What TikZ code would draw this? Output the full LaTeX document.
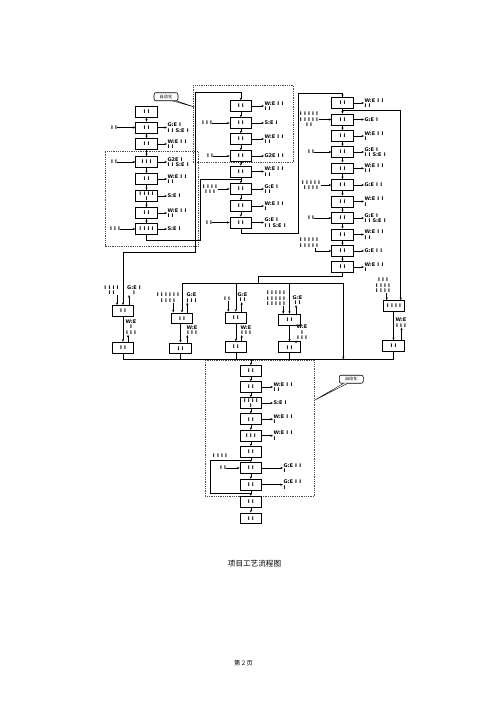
\documentclass[tikz,border=0pt]{standalone}
\usepackage{fontspec}
\newfontfamily\cjk{Noto Sans CJK SC}
\newfontfamily\garbf{DejaVu Sans}
\usetikzlibrary{arrows.meta}
\newcommand\garb{\fontsize{5}{5.5}\selectfont\garbf\bfseries\spaceskip=2.2pt\relax}
\tikzset{
 bx/.style={draw, line width=0.8pt, minimum width=21.5pt, minimum height=10.8pt, inner sep=0pt, font=\garb, align=center, fill=white},
 lb/.style={font=\garb, align=left, inner sep=0.3pt, anchor=west},
 ib/.style={font=\garb, align=center, inner sep=0.3pt},
 ar/.style={-{Stealth[length=2.6pt,width=2.2pt]}, line width=0.6pt},
 ln/.style={line width=0.6pt},
 dsh/.style={densely dotted, line width=0.8pt, black!70},
 callout/.style={draw, rounded corners=2pt, line width=0.6pt, font=\cjk\fontsize{4.2}{4.4}\selectfont, minimum width=24pt, minimum height=8pt, inner sep=0.5pt},
}
\begin{document}
\begin{tikzpicture}[x=1pt,y=-1pt]
\useasboundingbox (0,0) rectangle (500,707);
\fill[white] (0,0) rectangle (500,707);

% ---------------- dashed frames
\draw[dsh] (193.3,85) rectangle (293.3,162.7);
\draw[dsh] (105,151.7) rectangle (198.5,246);
\draw[dsh] (205,360) rectangle (314.3,496.7);

% ---------------- column A
\node[bx] (A1) at (146.5,112) {I I};
\node[bx] (A2) at (146.5,127.5) {I I};
\node[bx] (A3) at (146.5,144) {I I};
\node[bx] (A4) at (146.5,162) {I I I};
\node[bx] (A5) at (146.5,179) {I I};
\node[bx] (A6) at (146.5,196) {I I I I\\[-0.8pt]I};
\node[bx] (A7) at (146.5,213) {I I};
\node[bx] (A8) at (146.5,229) {I I I I};
\foreach \a/\b in {A1/A2,A2/A3,A3/A4,A4/A5,A5/A6,A6/A7,A7/A8} \draw[ar] (\a) -- (\b);
\node[ib] (A2i) at (114,127.5) {I I};
\node[ib] (A4i) at (114,162) {I I};
\node[ib] (A8i) at (115,229) {I I I};
\foreach \n in {A2,A4,A8} \draw[ar] (\n i) -- (\n);
\node[lb] (A2o) at (167,127.5) {G:E I\\I I S:E I};
\node[lb] (A3o) at (167,144) {W:E I I\\I I};
\node[lb] (A4o) at (167,162) {G2E I\\I I S:E I};
\node[lb] (A5o) at (167,179) {W:E I I\\I I};
\node[lb] (A6o) at (167,196) {S:E I};
\node[lb] (A7o) at (167,213) {W:E I I\\I I};
\node[lb] (A8o) at (167,229) {S:E I};
\foreach \n in {A2,A3,A4,A5,A6,A7,A8} \draw[ar] (\n.east) -- (\n o.west);

% ---------------- column B
\node[bx] (B1) at (240.8,106) {I I};
\node[bx] (B2) at (240.8,123) {I I};
\node[bx] (B3) at (240.8,139) {I I};
\node[bx] (B4) at (240.8,156) {I I};
\node[bx] (B5) at (240.8,171.5) {I I};
\node[bx] (B6) at (240.8,189) {I I};
\node[bx] (B7) at (240.8,206) {I I};
\node[bx] (B8) at (240.8,222.5) {I I};
\foreach \a/\b in {B1/B2,B2/B3,B3/B4,B4/B5,B5/B6,B6/B7,B7/B8} \draw[ar] (\a) -- (\b);
\node[ib] (B2i) at (207,123) {I I I};
\node[ib] (B4i) at (210,156) {I I};
\node[ib] (B6i) at (210,189) {I I I I\\I I I};
\node[ib] (B8i) at (209,222.5) {I I};
\foreach \n in {B2,B4,B6,B8} \draw[ar] (\n i) -- (\n);
\node[lb] (B1o) at (264,106) {W:E I I\\I I};
\node[lb] (B2o) at (264,123) {S:E I};
\node[lb] (B3o) at (264,139) {W:E I I\\I I};
\node[lb] (B4o) at (264,156) {G2E I I};
\node[lb] (B5o) at (264,171.5) {W:E I I\\I I};
\node[lb] (B6o) at (264,189) {G:E I\\I I};
\node[lb] (B7o) at (264,206) {W:E I I\\I};
\node[lb] (B8o) at (264,222.5) {G:E I\\I I S:E I};
\foreach \n in {B1,B2,B3,B4,B5,B6,B7,B8} \draw[ar] (\n.east) -- (\n o.west);

% ---------------- column C
\node[bx] (C1) at (342.5,103) {I I};
\node[bx] (C2) at (342.5,119.5) {I I};
\node[bx] (C3) at (342.5,136) {I I};
\node[bx] (C4) at (342.5,152) {I I};
\node[bx] (C5) at (342.5,168.3) {I I};
\node[bx] (C6) at (342.5,185) {I I};
\node[bx] (C7) at (342.5,201.5) {I I};
\node[bx] (C8) at (342.5,218) {I I};
\node[bx] (C9) at (342.5,234.5) {I I};
\node[bx] (C10) at (342.5,251) {I I};
\node[bx] (C11) at (342.5,267) {I I};
\foreach \a/\b in {C1/C2,C2/C3,C3/C4,C4/C5,C5/C6,C6/C7,C7/C8,C8/C9,C9/C10,C10/C11} \draw[ar] (\a) -- (\b);
\node[ib] (C2i) at (309,119.5) {I I I I I\\I I I I I\\I I};
\node[ib] (C4i) at (311,152) {I I};
\node[ib] (C6i) at (311,185) {I I I I I\\I I I I};
\node[ib] (C8i) at (311,218) {I I};
\foreach \n in {C2,C4,C6,C8} \draw[ar] (\n i) -- (\n);
\node[ib] (C10i) at (309,242.5) {I I I I I\\I I I I I};
\draw[ar] ([xshift=-3pt]C10i.south east) |- (C10.west);
\node[lb] (C1o) at (364,103) {W:E I I\\I I};
\node[lb] (C2o) at (364,119.5) {G:E I};
\node[lb] (C3o) at (364,136) {W:E I I\\I};
\node[lb] (C4o) at (364,152) {G:E I\\I I S:E I};
\node[lb] (C5o) at (364,168.3) {W:E I I\\I I};
\node[lb] (C6o) at (364,185) {G:E I I};
\node[lb] (C7o) at (364,201.5) {W:E I I\\I};
\node[lb] (C8o) at (364,218) {G:E I\\I I S:E I};
\node[lb] (C9o) at (364,234.5) {W:E I I\\I I};
\node[lb] (C10o) at (364,251) {G:E I I};
\node[lb] (C11o) at (364,267) {W:E I I\\I};
\foreach \n in {C1,C2,C3,C4,C5,C6,C7,C8,C9,C10,C11} \draw[ar] (\n.east) -- (\n o.west);

% ---------------- middle row
\node[bx] (D1t) at (123,310.8) {I I};
\node[bx] (D1b) at (123,347.5) {I I};
\node[bx] (D2t) at (182,318.3) {I I};
\node[bx] (D2b) at (180.5,348.3) {I I};
\node[bx] (D3t) at (235.8,317.5) {I I};
\node[bx] (D3b) at (235.8,347) {I I};
\node[bx] (D4t) at (289.5,319.6) {I I};
\node[bx] (D4b) at (289.5,347.2) {I I};
\node[bx] (D5t) at (394,306) {I I I I};
\node[bx] (D5b) at (393.5,346) {I I};

\node[ib] (D1i) at (111.5,290) {I I I I\\I I};
\node[ib] (D1g) at (134,290) {G:E I\\I};
\node[ib] (D1w) at (131,327) {W:E\\I\\I I I};
\draw[ar] ([xshift=-2pt]D1i.south east) -- ([xshift=-2pt]D1i.south east |- D1t.north);
\draw[ar] ([xshift=6pt]D1t.north) -- ([xshift=6pt]D1t.north |- D1g.south);
\draw[ar] (D1t.south) -- (D1b.north);
\draw[ar] ([xshift=5pt]D1b.north) -- ([xshift=5pt]D1b.north |- D1w.south);

\node[ib] (D2i) at (168,297.5) {I I I I I I\\I I I I};
\node[ib] (D2g) at (191.5,297.5) {G:E\\I I I};
\node[ib] (D2w) at (192,330) {W:E\\I I I};
\draw[ar] ([xshift=5.3pt]D2i.south) -- ([xshift=5.3pt]D2i.south |- D2t.north);
\draw[ar] ([xshift=5.3pt]D2t.north) -- ([xshift=5.3pt]D2t.north |- D2g.south);
\draw[ar] (D2b.north |- D2t.south) -- (D2b.north);
\draw[ar] ([xshift=6.8pt]D2b.north) -- ([xshift=6.8pt]D2b.north |- D2w.south);

\node[ib] (D3i) at (227,299) {I I};
\node[ib] (D3g) at (242.5,297) {G:E\\I I};
\node[ib] (D3w) at (246,330) {W:E\\I I I};
\draw[ar] ([xshift=1.3pt]D3i.south) -- ([xshift=1.3pt]D3i.south |- D3t.north);
\draw[ar] ([xshift=5.9pt]D3t.north) -- ([xshift=5.9pt]D3t.north |- D3g.south);
\draw[ar] (D3t.south) -- (D3b.north);
\draw[ar] ([xshift=5.9pt]D3b.north) -- ([xshift=5.9pt]D3b.north |- D3w.south);

\node[ib] (D4i) at (276,298.5) {I I I I I\\I I I I I\\I I I I I};
\node[ib] (D4g) at (297.5,300) {G:E\\I I};
\node[ib] (D4w) at (302,332.5) {W:E\\I\\I I I};
\draw[ar] ([xshift=7.3pt]D4i.south) -- ([xshift=7.3pt]D4i.south |- D4t.north);
\draw[ar] ([xshift=6.5pt]D4t.north) -- ([xshift=6.5pt]D4t.north |- D4g.south);
\draw[ar] (D4t.south) -- (D4b.north);
\draw[ar] ([xshift=6.5pt]D4b.north) -- ([xshift=6.5pt]D4b.north |- D4w.south);

\node[ib] (D5i) at (383,285.5) {I I I\\I I I I\\I I I I};
\node[ib] (D5w) at (401,322.5) {W:E\\I I I};
\draw[ar] ([xshift=3.7pt]D5i.south) -- ([xshift=3.7pt]D5i.south |- D5t.north);
\draw[ar] (D5b.north |- D5t.south) -- (D5b.north);
\draw[ar] ([xshift=8pt]D5b.north) -- ([xshift=8pt]D5b.north |- D5w.south);

% ---------------- column E
\node[bx] (E1) at (250.8,371) {I I};
\node[bx] (E2) at (250.8,387) {I I};
\node[bx] (E3) at (250.8,403) {I I I I\\[-0.8pt]I};
\node[bx] (E4) at (250.8,419.2) {I I};
\node[bx] (E5) at (250.8,435.7) {I I I};
\node[bx] (E6) at (250.8,452) {I I};
\node[bx] (E7) at (250.8,468) {I I};
\node[bx] (E8) at (250.8,484.7) {I I};
\node[bx] (E9) at (250.8,501.7) {I I};
\node[bx] (E10) at (250.8,518.3) {I I};
\foreach \a/\b in {E1/E2,E2/E3,E3/E4,E4/E5,E5/E6,E6/E7,E7/E8,E8/E9,E9/E10} \draw[ar] (\a) -- (\b);
\node[lb] (E2o) at (273,387) {W:E I I\\I I};
\node[lb] (E3o) at (273,403) {S:E I};
\node[lb] (E4o) at (273,419.2) {W:E I I\\I};
\node[lb] (E5o) at (273,435.7) {W:E I I\\I};
\node[lb] (E7o) at (283,468) {G:E I I\\I};
\node[lb] (E8o) at (283,484.7) {G:E I I\\I};
\foreach \n in {E2,E3,E4,E5,E7,E8} \draw[ar] (\n.east) -- (\n o.west);
\node[ib] (E7i) at (223,468) {I I};
\draw[ar] (E7i) -- (E7);
% recycle loop
\coordinate (lpA) at (250.8,493.3);
\coordinate (lpB) at (250.8,460);
\draw[ln] (lpA) -- (210,493.3) -- (210,460) -- (lpB);
\node[ib] (lpT) at (220,455.3) {I I I I};

% ---------------- connectors
\draw[{Stealth[length=2.6pt,width=2.2pt]}-{Stealth[length=2.6pt,width=2.2pt]}, line width=0.6pt]
  (B1.north) |- (195.5,92.7) -- (195.5,252.7) -| (D1t.north);
\draw[ln] (A8.south) |- (200,240) |- (B5.south |- 0,179.3);
\draw[ar] (B8.south) |- (298,233.3) -- (298,93.3) -| (C1.north);
\coordinate (c1b) at (342.5,110.7);
\draw[ar] (c1b) -| ([xshift=6.7pt]D5t.north);
\coordinate (dist) at (0,283.3);
\coordinate (dR) at (343.3,283.3);
\coordinate (bot) at (0,359.3);
\draw[ln] (C11.south) |- (258.3,276.7) -- (258.3,283.3);
\draw[ln] (D2t.north |- dist) -- (dR);
\draw[ar] (D2t.north |- dist) -- (D2t.north);
\draw[ar] (D3t.north |- dist) -- (D3t.north);
\draw[ar] (D4t.north |- dist) -- (D4t.north);
\draw[ar] (dR) -- (dR |- bot);
\draw[ln] (D1b.south |- bot) -- (D5b.south |- bot);
\foreach \n in {D1b,D2b,D3b,D4b,D5b} \draw[ln] (\n.south) -- (\n.south |- bot);
\draw[ar] (E1.north |- bot) -- (E1.north);

% ---------------- callouts
\node[callout] (co1) at (166,96.7) {自动化};
\draw[line width=0.4pt, fill=white] (172.5,100.9) -- (194.5,107) -- (176.5,100.9);
\node[callout] (co2) at (351.3,379.2) {自动化};
\draw[line width=0.4pt, fill=white] (343.5,383.4) -- (315,400) -- (347.5,383.4);

% ---------------- captions
\node[font=\cjk\fontsize{7.6}{8}\selectfont, inner sep=0pt] (cap) at (254.5,563.5) {项目工艺流程图};
\node[font=\cjk\fontsize{6.2}{7}\selectfont, inner sep=0pt] (pg) at (243.5,663) {第 2 页};
\end{tikzpicture}
\end{document}
